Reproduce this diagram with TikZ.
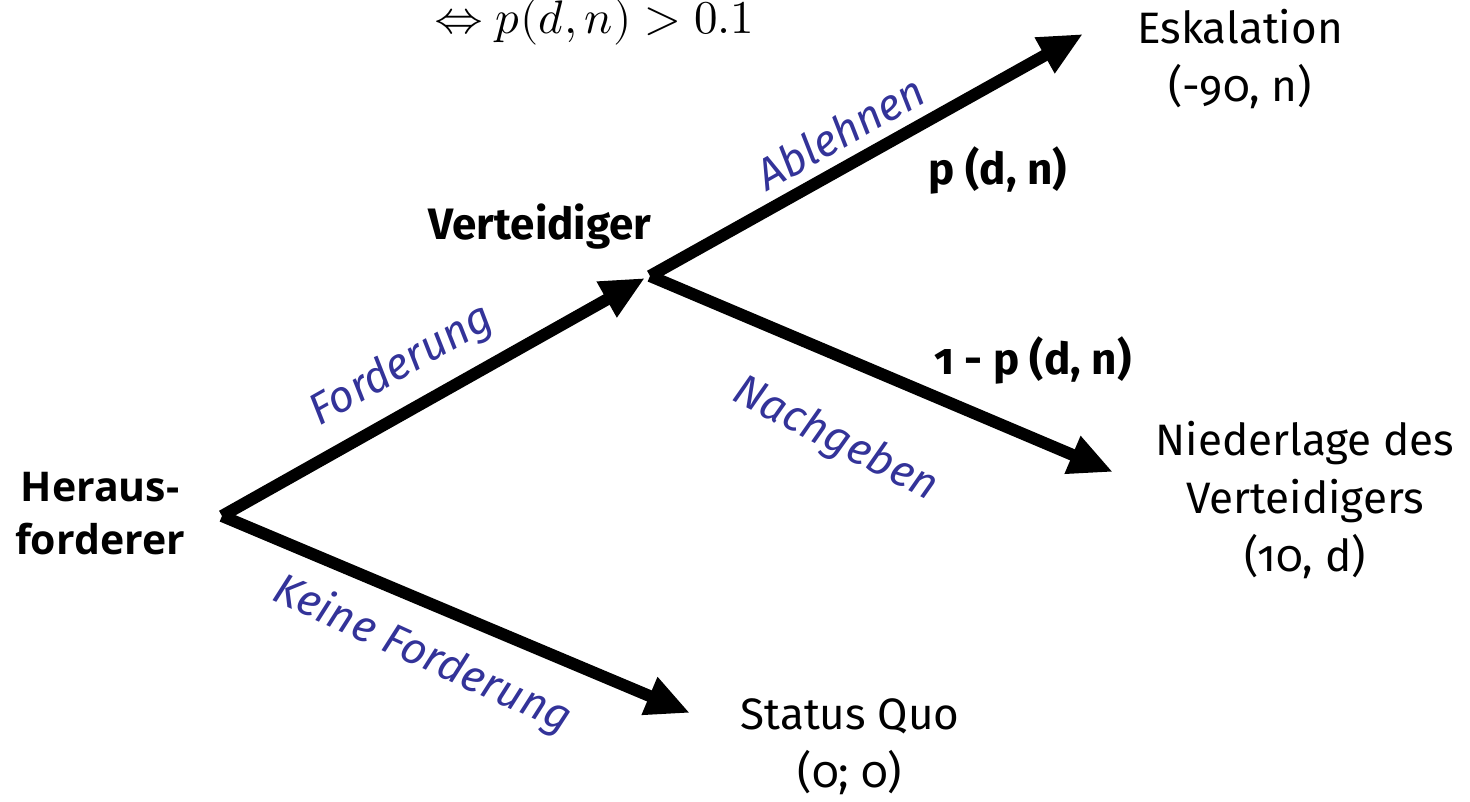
\documentclass[tikz,border=0pt]{standalone}
\usepackage{fontspec}
\usepackage{unicode-math}
\setmainfont{Fira Sans}[Numbers=OldStyle]
\setmathfont{Latin Modern Math}
\newfontfamily\hfont{Open Sans}
\usetikzlibrary{arrows.meta}
\definecolor{lblblue}{RGB}{51,51,153}
\tikzset{
  edge/.style={line width=12pt, -{Triangle[length=44pt,width=38pt]}},
  outtxt/.style={font=\fontsize{44}{58}\selectfont, align=center, inner sep=0pt},
  boldtxt/.style={font=\fontsize{44}{52}\selectfont\bfseries, align=center, inner sep=0pt},
  movetxt/.style={font=\fontsize{44}{50}\selectfont\itshape, text=lblblue, inner sep=0pt},
}
\begin{document}
\begin{tikzpicture}[x=1pt,y=-1pt]
\useasboundingbox (0,0) rectangle (1470,802);
\coordinate (root) at (222,516);
\coordinate (vpt) at (650,276);
\coordinate (vtip) at (645,278);
\coordinate (esk) at (1083,34);
\coordinate (nied) at (1113,472);
\coordinate (sq) at (690,713);
\draw[edge] (root) -- (vtip);
\draw[edge] (vpt) -- (nied);
\draw[edge] (vpt) -- (esk);
\draw[edge] (root) -- (sq);
\node[font=\fontsize{47}{50}\selectfont, inner sep=0pt] (cond) at (595,22) {$\Leftrightarrow p(d,n) > 0.1$};
\node[outtxt] (eskt) at (1240,59) {Eskalation\\(-90, n)};
\node[outtxt] (niedt) at (1305,500) {Niederlage des\\Verteidigers\\(10, d)};
\node[outtxt] (sqt) at (850,747) {Status Quo\\(0; 0)};
\node[boldtxt] (vert) at (540,227) {Verteidiger};
\node[boldtxt] (p1) at (998,170) {p (d, n)};
\node[boldtxt] (p2) at (1033,360) {1 - p (d, n)};
\node[font=\hfont\fontsize{41}{53}\selectfont\bfseries, align=center, inner sep=0pt] (her) at (100,514) {Heraus-\\forderer};
\node[movetxt, rotate=29.5] (abl) at (840,132) {Ablehnen};
\node[movetxt, rotate=29.5] (ford) at (402,366) {Forderung};
\node[movetxt, rotate=-27] (nach) at (835,440) {Nachgeben};
\node[movetxt, rotate=-24.5] (keine) at (422,655) {Keine Forderung};
\end{tikzpicture}
\end{document}
